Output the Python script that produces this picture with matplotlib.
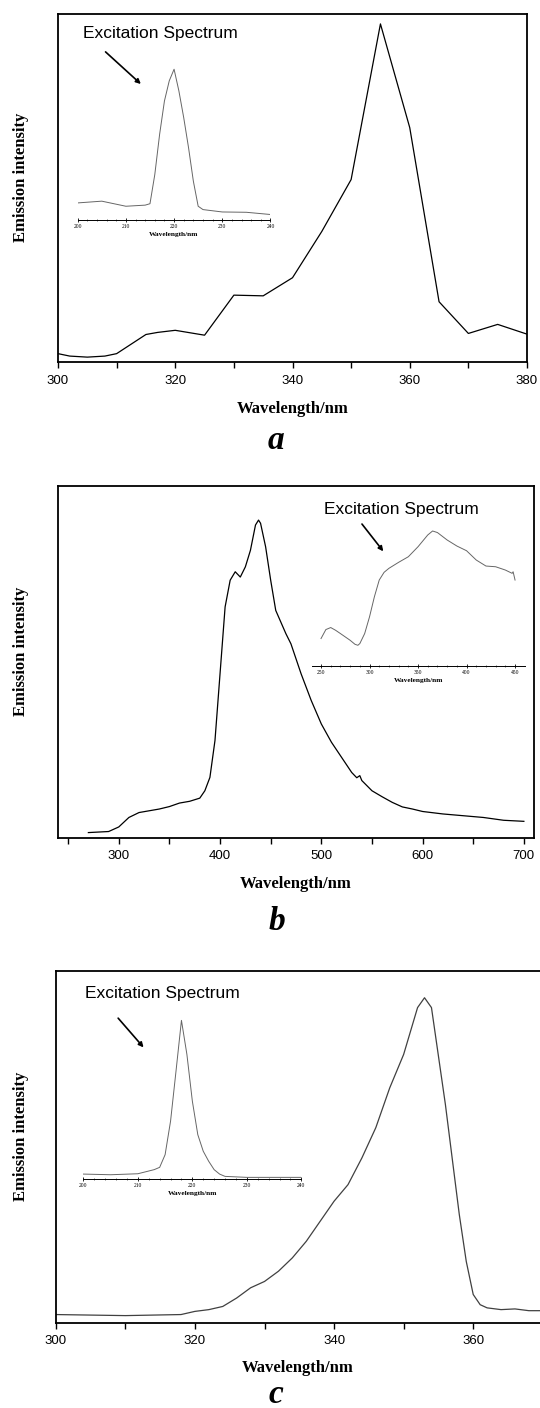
import numpy as np
import matplotlib.pyplot as plt
from matplotlib.ticker import MultipleLocator

plt.rcParams['font.family'] = ['Liberation Sans', 'DejaVu Sans']

W, H = 540, 1408

# panel a: emission and excitation spectra
a_wl = [300, 302, 305, 308, 310, 315, 317, 320, 325, 330, 335, 340, 345, 350, 355, 360, 365, 370, 375, 380]
a_int = [0.024, 0.017, 0.014, 0.017, 0.024, 0.079, 0.085, 0.091, 0.077, 0.192, 0.190, 0.242, 0.375, 0.524,
         0.971, 0.673, 0.173, 0.082, 0.108, 0.080]
a_ex_wl = [200, 205, 210, 214, 215, 216, 217, 218, 219, 220, 221, 222, 223, 224, 225, 226, 230, 235, 240]
a_ex_int = [0.105, 0.116, 0.084, 0.091, 0.100, 0.284, 0.537, 0.747, 0.874, 0.947, 0.810, 0.642, 0.453, 0.242,
            0.084, 0.063, 0.048, 0.046, 0.032]
a_ex_ticks = [200, 210, 220, 230, 240]

# panel b
b_wl = [270, 290, 300, 310, 320, 330, 340, 350, 360, 370, 380, 385, 390, 395, 400, 405, 410, 415, 420, 425,
        430, 435, 438, 440, 445, 450, 455, 460, 465, 470, 480, 490, 500, 510, 520, 530, 535, 538, 540, 550,
        560, 570, 580, 590, 600, 620, 640, 660, 680, 700]
b_int = [0.014, 0.017, 0.030, 0.057, 0.071, 0.076, 0.081, 0.088, 0.098, 0.103, 0.112, 0.133, 0.171, 0.276,
         0.466, 0.656, 0.732, 0.756, 0.741, 0.770, 0.817, 0.889, 0.903, 0.894, 0.827, 0.732, 0.646, 0.613,
         0.580, 0.551, 0.466, 0.390, 0.323, 0.271, 0.228, 0.185, 0.170, 0.176, 0.162, 0.133, 0.116, 0.100,
         0.087, 0.081, 0.074, 0.067, 0.062, 0.057, 0.049, 0.046]
b_ex_wl = [250, 255, 260, 265, 270, 280, 285, 288, 290, 295, 300, 305, 310, 315, 320, 330, 340, 350, 360,
           365, 370, 380, 390, 400, 410, 420, 430, 440, 447, 448, 450]
b_ex_int = [0.194, 0.257, 0.271, 0.252, 0.229, 0.182, 0.154, 0.147, 0.159, 0.229, 0.346, 0.486, 0.603, 0.657,
            0.685, 0.727, 0.766, 0.836, 0.918, 0.946, 0.935, 0.883, 0.841, 0.808, 0.743, 0.701, 0.696, 0.673,
            0.650, 0.661, 0.603]
b_ex_ticks = [250, 300, 350, 400, 450]

# panel c
c_wl = [300, 310, 318, 320, 322, 324, 326, 328, 330, 332, 334, 336, 338, 340, 342, 344, 346, 348, 350, 352,
        353, 354, 356, 358, 359, 360, 361, 362, 364, 366, 368, 370]
c_int = [0.024, 0.021, 0.024, 0.033, 0.038, 0.047, 0.071, 0.100, 0.118, 0.147, 0.185, 0.232, 0.289, 0.346,
         0.393, 0.469, 0.555, 0.668, 0.763, 0.896, 0.924, 0.896, 0.621, 0.308, 0.175, 0.081, 0.052, 0.043,
         0.038, 0.040, 0.035, 0.035]
c_ex_wl = [200, 205, 210, 213, 214, 215, 216, 217, 218, 219, 220, 221, 222, 223, 224, 225, 226, 230, 240]
c_ex_int = [0.028, 0.024, 0.030, 0.055, 0.069, 0.146, 0.350, 0.654, 0.963, 0.756, 0.472, 0.268, 0.167, 0.106,
            0.055, 0.028, 0.014, 0.008, 0.008]
c_ex_ticks = [200, 210, 220, 230, 240]


def fig_rect(left, top, right, bottom):
    return [left / W, 1 - bottom / H, (right - left) / W, (bottom - top) / H]


def draw_panel(fig, box, wl, inten, xlim, major, minor, line_col,
               inset_box, ex_wl, ex_int, ex_xlim, ex_ticks, ex_minor,
               text_xy, arrow_from, arrow_to, xlabel_y, letter, letter_xy):
    ax = fig.add_axes(fig_rect(*box))
    ax.plot(wl, inten, color=line_col, lw=0.9)
    ax.set_xlim(*xlim)
    ax.set_ylim(0, 1)
    ax.set_yticks([])
    ax.xaxis.set_major_locator(MultipleLocator(major))
    ax.xaxis.set_minor_locator(MultipleLocator(minor))
    ax.tick_params(axis='x', which='both', direction='out', length=4, width=1, labelsize=9.5, pad=5)
    for s in ax.spines.values():
        s.set_linewidth(1.3)

    ins = ax.inset_axes(inset_box)
    ins.plot(ex_wl, ex_int, color='0.4', lw=0.7)
    ins.set_xlim(*ex_xlim)
    ins.set_ylim(0, 1)
    ins.set_yticks([])
    ins.set_xticks(ex_ticks)
    ins.set_xticklabels([str(t) for t in ex_ticks], family='Liberation Serif', fontsize=4)
    ins.set_xticks(np.arange(ex_ticks[0], ex_ticks[-1] + 0.1, ex_minor), minor=True)
    ins.patch.set_alpha(0)
    for side in ['top', 'right', 'left']:
        ins.spines[side].set_visible(False)
    ins.spines['bottom'].set_linewidth(0.7)
    ins.tick_params(axis='x', which='major', direction='inout', length=3, width=0.6, pad=1.5)
    ins.tick_params(axis='x', which='minor', direction='inout', length=1.5, width=0.4)
    ins.set_xlabel('Wavelength/nm', family='Liberation Serif', weight='bold', fontsize=5.3, labelpad=2)

    ax.text(text_xy[0], text_xy[1], 'Excitation Spectrum', transform=ax.transAxes,
            fontsize=12.5, ha='left', va='center')
    ax.annotate('', xy=arrow_to, xytext=arrow_from, xycoords='axes fraction',
                arrowprops=dict(arrowstyle='-|>', lw=1.2, color='black', mutation_scale=7))

    cx = (box[0] + box[2]) / 2
    fig.text(cx / W, 1 - xlabel_y / H, 'Wavelength/nm', family='Liberation Serif',
             weight='bold', fontsize=12, ha='center', va='center')
    ymid = box[1] + (box[3] - box[1]) * 0.47
    fig.text(20.7 / W, 1 - ymid / H, 'Emission intensity', family='Liberation Serif',
             weight='bold', fontsize=12, rotation=90, ha='center', va='center')
    fig.text(letter_xy[0] / W, 1 - letter_xy[1] / H, letter, family='Liberation Serif',
             weight='bold', style='italic', fontsize=24, ha='center', va='baseline')
    return ax


fig = plt.figure(figsize=(W / 100, H / 100), dpi=100)

draw_panel(fig, (58, 13.8, 527, 362), a_wl, a_int, (300, 380), 20, 10, 'black',
           [0.042, 0.409, 0.411, 0.456], a_ex_wl, a_ex_int, (200, 240), a_ex_ticks, 2,
           (0.053, 0.942), (0.097, 0.896), (0.181, 0.793), 409, 'a', (276, 449))

draw_panel(fig, (58, 486, 534, 837.5), b_wl, b_int, (240, 710), 100, 50, 'black',
           [0.533, 0.487, 0.449, 0.407], b_ex_wl, b_ex_int, (240.4, 460.7), b_ex_ticks, 10,
           (0.559, 0.933), (0.635, 0.898), (0.687, 0.808), 884, 'b', (277, 930))

axc = draw_panel(fig, (55.8, 971, 540, 1323), c_wl, c_int, (300, 369.6), 20, 10, '0.25',
                 [0.057, 0.410, 0.450, 0.467], c_ex_wl, c_ex_int, (200, 240), c_ex_ticks, 2,
                 (0.061, 0.936), (0.125, 0.872), (0.185, 0.777), 1368, 'c', (275.5, 1403))
axc.spines['right'].set_visible(False)

plt.savefig('out.png', dpi=100)
